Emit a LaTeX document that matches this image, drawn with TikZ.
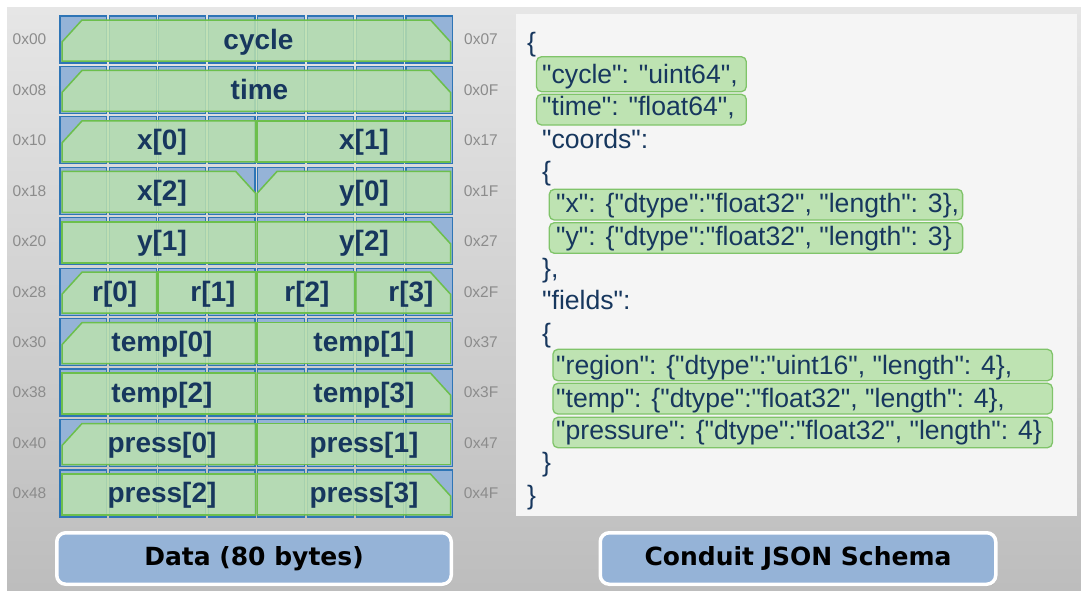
\documentclass[tikz,border=0pt]{standalone}
\usepackage{fontspec}
\setmainfont{Liberation Sans}[Ligatures=TeXOff]
\newfontfamily\btnfont{DejaVu Sans}
\usetikzlibrary{shadows}

\definecolor{bgtop}{HTML}{E6E6E6}
\definecolor{bgbot}{HTML}{BDBDBD}
\definecolor{cellblue}{HTML}{95B3D7}
\definecolor{celledge}{HTML}{2E75B6}
\definecolor{fieldgreen}{HTML}{BBE1AE}
\definecolor{fieldedge}{HTML}{6CBF4C}
\definecolor{hlgreen}{HTML}{BEE3B2}
\definecolor{hledge}{HTML}{80C46A}
\definecolor{navy}{HTML}{17375E}
\definecolor{hexgray}{HTML}{8C8C8C}
\definecolor{panelgray}{HTML}{F5F5F5}
\definecolor{btnblue}{HTML}{95B3D7}

% row, first byte, byte count, corner cuts (0 none, 1 left, 2 right, 3 both), label, label x, node name
\newcommand\bytefield[7]{%
  \pgfmathsetmacro\bfTop{16+#1*50.44+4}%
  \pgfmathsetmacro\bfBot{16+#1*50.44+45}%
  \pgfmathsetmacro\bfL{(#2==0) ? 62 : 60+#2*49.43-0.62}%
  \pgfmathsetmacro\bfR{((#2+#3)==8) ? 450.5 : 60+(#2+#3)*49.43-2.12}%
  \ifcase#4\relax
    \path[field] (\bfL,\bfTop) rectangle (\bfR,\bfBot);
  \or
    \path[field] (\bfL+20,\bfTop) -- (\bfR,\bfTop) -- (\bfR,\bfBot) -- (\bfL,\bfBot) -- (\bfL,\bfTop+22) -- cycle;
  \or
    \path[field] (\bfL,\bfTop) -- (\bfR-20,\bfTop) -- (\bfR,\bfTop+22) -- (\bfR,\bfBot) -- (\bfL,\bfBot) -- cycle;
  \or
    \path[field] (\bfL+20,\bfTop) -- (\bfR-20,\bfTop) -- (\bfR,\bfTop+22) -- (\bfR,\bfBot) -- (\bfL,\bfBot) -- (\bfL,\bfTop+22) -- cycle;
  \fi
  \node[fieldtext] (#7) at (#6,\bfTop+29) {#5};
}

\begin{document}
\begin{tikzpicture}[x=1pt,y=-1pt,
  cell/.style={fill=cellblue,draw=celledge,line width=1.2pt},
  field/.style={fill=fieldgreen,fill opacity=0.85,draw=fieldedge,line width=1.5pt,line join=miter},
  fieldtext/.style={anchor=base,inner sep=0,text=navy,font=\fontsize{28}{30}\selectfont\bfseries},
  hexlabel/.style={inner sep=0,text=hexgray,font=\fontsize{15.5}{17}\selectfont},
  json/.style={anchor=base west,inner sep=0,text=navy,font=\fontsize{26.6}{30}\selectfont},
  hl/.style={fill=hlgreen,draw=hledge,line width=1.3pt,rounded corners=5pt},
  button/.style={fill=btnblue,draw=white,line width=3.5pt,rounded corners=9pt,inner sep=0,
    minimum height=51.5pt,text=black,font=\btnfont\bfseries\fontsize{25}{28}\selectfont,
    drop shadow={opacity=0.25,shadow xshift=1pt,shadow yshift=-2pt}}
]
\useasboundingbox (0,0) rectangle (1081,590);
\fill[white] (0,0) rectangle (1081,590);
\shade[top color=bgtop,bottom color=bgbot] (7,7) rectangle (1081,590);

% byte grid: 10 rows of 8 bytes
\foreach \r in {0,...,9}{
  \foreach \c in {0,...,7}{
    \pgfmathsetmacro\cx{60+\c*49.43}
    \pgfmathsetmacro\cy{16+\r*50.44}
    \path[cell] (\cx,\cy) rectangle ++(46.7,47);
  }
}

% byte offsets
\foreach \r/\a/\b in {0/00/07,1/08/0F,2/10/17,3/18/1F,4/20/27,5/28/2F,6/30/37,7/38/3F,8/40/47,9/48/4F}{
  \pgfmathsetmacro\cy{16+\r*50.44+23.5}
  \node[hexlabel] (offl\r) at (29.5,\cy) {0x\a};
  \node[hexlabel] (offr\r) at (481,\cy) {0x\b};
}

% fields laid over the bytes
\bytefield{0}{0}{8}{3}{cycle}{258.5}{fcycle}
\bytefield{1}{0}{8}{3}{time}{259.5}{ftime}
\bytefield{2}{0}{4}{1}{x[0]}{162}{fx0}
\bytefield{2}{4}{4}{0}{x[1]}{364}{fx1}
\bytefield{3}{0}{4}{2}{x[2]}{162}{fx2}
\bytefield{3}{4}{4}{1}{y[0]}{364}{fy0}
\bytefield{4}{0}{4}{0}{y[1]}{162}{fy1}
\bytefield{4}{4}{4}{2}{y[2]}{364}{fy2}
\bytefield{5}{0}{2}{1}{r[0]}{114.7}{fr0}
\bytefield{5}{2}{2}{0}{r[1]}{213}{fr1}
\bytefield{5}{4}{2}{0}{r[2]}{307}{fr2}
\bytefield{5}{6}{2}{2}{r[3]}{411}{fr3}
\bytefield{6}{0}{4}{1}{temp[0]}{162}{ft0}
\bytefield{6}{4}{4}{0}{temp[1]}{364}{ft1}
\bytefield{7}{0}{4}{0}{temp[2]}{162}{ft2}
\bytefield{7}{4}{4}{2}{temp[3]}{364}{ft3}
\bytefield{8}{0}{4}{1}{press[0]}{162}{fp0}
\bytefield{8}{4}{4}{0}{press[1]}{364}{fp1}
\bytefield{9}{0}{4}{0}{press[2]}{162}{fp2}
\bytefield{9}{4}{4}{2}{press[3]}{364}{fp3}

% schema panel
\fill[panelgray] (516,14) rectangle (1077,516);

% highlighted schema entries
\path[hl] (536.5,56.7) rectangle (746.3,91.7);
\path[hl] (536.5,94.3) rectangle (746.3,125);
\path[hl] (549.3,189.3) rectangle (962.6,220);
\path[hl] (549.3,222.7) rectangle (962.6,253.3);
\path[hl] (552.9,349.3) rectangle (1052.4,380.7);
\path[hl] (552.9,383.3) rectangle (1052.4,414);
\path[hl] (552.9,417.3) rectangle (1052.4,447.7);

% schema text
\node[json] (j0)  at (527,51)    {\{};
\node[json] (j1)  at (542,83.4)  {"cycle": "uint64",};
\node[json] (j2)  at (542,115.7) {"time": "float64",};
\node[json] (j3)  at (542,148.1) {"coords":};
\node[json] (j4)  at (542,180.4) {\{};
\node[json] (j5)  at (556,212.8) {"x": \{"dtype":"float32", "length": 3\},};
\node[json] (j6)  at (556,245.2) {"y": \{"dtype":"float32", "length": 3\}};
\node[json] (j7)  at (542,277.5) {\},};
\node[json] (j8)  at (542,309.9) {"fields":};
\node[json] (j9)  at (542,342.2) {\{};
\node[json] (j10) at (556,374.6) {"region": \{"dtype":"uint16", "length": 4\},};
\node[json] (j11) at (556,407)   {"temp": \{"dtype":"float32", "length": 4\},};
\node[json] (j12) at (556,439.3) {"pressure": \{"dtype":"float32", "length": 4\}};
\node[json] (j13) at (542,471.7) {\}};
\node[json] (j14) at (527,504)   {\}};

% captions
\node[button,minimum width=394.5pt] (databtn) at (254,558.5) {Data (80 bytes)};
\node[button,minimum width=395.5pt] (schemabtn) at (798,558.5) {Conduit JSON Schema};
\end{tikzpicture}
\end{document}
